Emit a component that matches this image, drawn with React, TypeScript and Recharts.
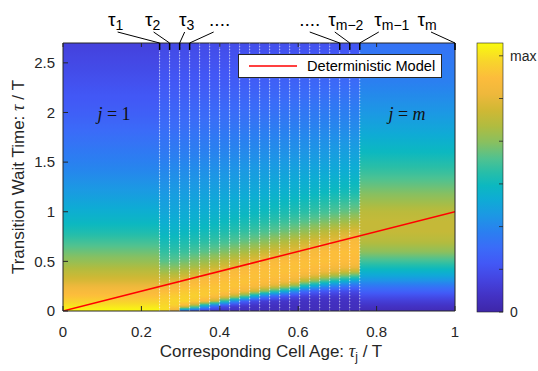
import React from 'react';
import { ComposedChart, XAxis, YAxis, ReferenceArea, ReferenceLine, Line, Legend } from 'recharts';

// ---------------- data ----------------
// sample points of the transition wait time (tau / T)
const TAU = [0, 0.05, 0.1, 0.15, 0.2, 0.25, 0.3, 0.35, 0.4, 0.45, 0.5, 0.6, 0.7, 0.8, 0.9, 1.0, 1.2, 1.4, 1.6, 1.8, 2.0, 2.3, 2.7];
// column boundaries on the cell-age axis (0, tau_1 ... tau_{m-1}, tau_m = 1)
const EDGES = [0, 0.2465, 0.272, 0.2976, 0.3231, 0.3486, 0.3742, 0.3997, 0.4252, 0.4507, 0.4763, 0.5018, 0.5273,
  0.5529, 0.5784, 0.6039, 0.6295, 0.655, 0.6805, 0.706, 0.7316, 0.7571, 1];
// relative density (0..max) per column, sampled at TAU
const COL_J1 = [1.0, 0.96, 0.92, 0.88, 0.85, 0.81, 0.77, 0.74, 0.71, 0.68, 0.65, 0.6, 0.55, 0.5, 0.46, 0.43, 0.37, 0.32, 0.28, 0.24, 0.2, 0.16, 0.11];
const MID_01 = [0.95, 0.94, 0.92, 0.9, 0.87, 0.82, 0.75, 0.71, 0.66, 0.62, 0.58, 0.53, 0.49, 0.455, 0.425, 0.4, 0.36, 0.32, 0.28, 0.25, 0.22, 0.18, 0.13];
const MID_02 = [0.8, 0.92, 0.93, 0.91, 0.88, 0.85, 0.78, 0.72, 0.67, 0.62, 0.585, 0.53, 0.49, 0.455, 0.43, 0.405, 0.37, 0.33, 0.29, 0.25, 0.22, 0.18, 0.135];
const MID_03 = [0.23, 0.85, 0.93, 0.92, 0.9, 0.87, 0.82, 0.75, 0.7, 0.65, 0.605, 0.54, 0.5, 0.465, 0.435, 0.413, 0.372, 0.332, 0.292, 0.255, 0.225, 0.182, 0.137];
const MID_04 = [0.14, 0.665, 0.9, 0.92, 0.905, 0.88, 0.85, 0.78, 0.73, 0.67, 0.63, 0.56, 0.51, 0.474, 0.443, 0.419, 0.377, 0.337, 0.297, 0.26, 0.228, 0.182, 0.139];
const MID_05 = [0.084, 0.41, 0.84, 0.905, 0.9, 0.885, 0.865, 0.83, 0.76, 0.7, 0.656, 0.579, 0.523, 0.483, 0.452, 0.426, 0.384, 0.342, 0.302, 0.264, 0.232, 0.185, 0.14];
const MID_06 = [0.06, 0.24, 0.73, 0.88, 0.895, 0.885, 0.87, 0.845, 0.785, 0.73, 0.684, 0.598, 0.537, 0.494, 0.461, 0.432, 0.39, 0.347, 0.307, 0.268, 0.235, 0.188, 0.142];
const MID_07 = [0.05, 0.14, 0.515, 0.83, 0.887, 0.89, 0.88, 0.865, 0.83, 0.76, 0.716, 0.62, 0.553, 0.504, 0.47, 0.44, 0.395, 0.352, 0.312, 0.272, 0.239, 0.19, 0.144];
const MID_08 = [0.047, 0.09, 0.34, 0.73, 0.866, 0.89, 0.885, 0.875, 0.855, 0.785, 0.74, 0.645, 0.572, 0.519, 0.48, 0.448, 0.4, 0.357, 0.317, 0.277, 0.241, 0.193, 0.145];
const MID_09 = [0.045, 0.07, 0.21, 0.585, 0.82, 0.876, 0.885, 0.88, 0.865, 0.83, 0.77, 0.673, 0.592, 0.533, 0.49, 0.457, 0.407, 0.366, 0.323, 0.283, 0.245, 0.196, 0.148];
const MID_10 = [0.043, 0.058, 0.137, 0.42, 0.744, 0.856, 0.876, 0.88, 0.875, 0.855, 0.79, 0.7, 0.611, 0.548, 0.5, 0.465, 0.413, 0.372, 0.328, 0.288, 0.247, 0.198, 0.15];
const MID_11 = [0.042, 0.05, 0.099, 0.29, 0.628, 0.82, 0.869, 0.88, 0.878, 0.87, 0.835, 0.734, 0.634, 0.565, 0.513, 0.475, 0.42, 0.376, 0.333, 0.293, 0.25, 0.202, 0.15];
const MID_12 = [0.041, 0.048, 0.082, 0.22, 0.527, 0.777, 0.857, 0.88, 0.88, 0.875, 0.855, 0.754, 0.662, 0.584, 0.529, 0.486, 0.431, 0.382, 0.338, 0.298, 0.256, 0.206, 0.152];
const MID_13 = [0.04, 0.047, 0.072, 0.17, 0.43, 0.712, 0.838, 0.871, 0.88, 0.878, 0.87, 0.776, 0.689, 0.604, 0.543, 0.497, 0.436, 0.388, 0.343, 0.303, 0.262, 0.21, 0.153];
const MID_14 = [0.04, 0.046, 0.064, 0.135, 0.34, 0.636, 0.807, 0.862, 0.878, 0.88, 0.875, 0.79, 0.718, 0.624, 0.559, 0.507, 0.442, 0.395, 0.348, 0.308, 0.267, 0.211, 0.155];
const MID_15 = [0.04, 0.045, 0.058, 0.105, 0.24, 0.47, 0.69, 0.82, 0.865, 0.88, 0.877, 0.82, 0.743, 0.649, 0.577, 0.52, 0.45, 0.4, 0.353, 0.313, 0.273, 0.218, 0.156];
const MID_16 = [0.04, 0.044, 0.056, 0.095, 0.2, 0.4, 0.62, 0.78, 0.85, 0.875, 0.88, 0.85, 0.765, 0.677, 0.597, 0.536, 0.458, 0.406, 0.358, 0.318, 0.278, 0.222, 0.158];
const MID_17 = [0.04, 0.044, 0.055, 0.088, 0.18, 0.34, 0.54, 0.72, 0.825, 0.865, 0.88, 0.865, 0.783, 0.706, 0.618, 0.552, 0.467, 0.411, 0.363, 0.323, 0.283, 0.225, 0.16];
const MID_18 = [0.04, 0.045, 0.055, 0.085, 0.165, 0.3, 0.48, 0.66, 0.79, 0.855, 0.875, 0.875, 0.795, 0.734, 0.639, 0.569, 0.476, 0.417, 0.372, 0.328, 0.288, 0.23, 0.161];
const MID_19 = [0.04, 0.045, 0.055, 0.083, 0.15, 0.27, 0.43, 0.6, 0.75, 0.84, 0.87, 0.878, 0.83, 0.757, 0.665, 0.59, 0.486, 0.425, 0.38, 0.334, 0.294, 0.234, 0.164];
const MID_20 = [0.04, 0.046, 0.055, 0.08, 0.14, 0.24, 0.38, 0.55, 0.72, 0.83, 0.865, 0.878, 0.855, 0.776, 0.693, 0.61, 0.497, 0.433, 0.386, 0.339, 0.299, 0.239, 0.166];
const COL_JM = [0.03, 0.06, 0.1, 0.15, 0.21, 0.27, 0.34, 0.4, 0.45, 0.5, 0.55, 0.64, 0.7, 0.73, 0.73, 0.71, 0.62, 0.54, 0.47, 0.41, 0.36, 0.3, 0.26];

const DETERMINISTIC = [{ age: 0, wait: 0 }, { age: 1, wait: 1 }];
const X_TICKS = [0, 0.2, 0.4, 0.6, 0.8, 1];
const Y_TICKS = [0, 0.5, 1, 1.5, 2, 2.5];
const TAU_MARKS = [EDGES[1], EDGES[2], EDGES[3], EDGES[4], EDGES[19], EDGES[20], EDGES[21], EDGES[22]];
const TAU_MARK_LABELS: [string, string][] = [['τ', '1'], ['τ', '2'], ['τ', '3'], ['....', ''], ['....', ''], ['τ', 'm−2'], ['τ', 'm−1'], ['τ', 'm']];
const CBAR_TICKS = [0, 1, 2, 3, 4, 5, 6];
const CBAR_TICK_LABELS = ['0', '', '', '', '', '', 'max'];
const CBAR_RANGE = 6.3;

// ---------------- styling ----------------
const COLUMNS = [COL_J1, MID_01, MID_02, MID_03, MID_04, MID_05, MID_06, MID_07, MID_08, MID_09, MID_10,
  MID_11, MID_12, MID_13, MID_14, MID_15, MID_16, MID_17, MID_18, MID_19, MID_20, COL_JM];
const Y_MAX = 2.7;
const AXIS = '#262626';
const FONT = '"Liberation Sans", Arial, Helvetica, sans-serif';
const TOP_TICKS = [...X_TICKS.filter((t) => t < 1), ...TAU_MARKS].sort((a, b) => a - b);

const PARULA: [number, string][] = [
  [0.0, '#3e26a8'], [0.06, '#4332c4'], [0.12, '#4444e0'], [0.18, '#4258f6'], [0.24, '#3a6cf8'],
  [0.3, '#2a80f0'], [0.36, '#1c98e4'], [0.42, '#0eacd4'], [0.47, '#0cb8c0'], [0.52, '#28bea8'],
  [0.57, '#50c290'], [0.63, '#88c060'], [0.69, '#b0bc40'], [0.75, '#d0b834'], [0.81, '#eeb83c'],
  [0.87, '#fcbc3c'], [0.93, '#f8d42c'], [1.0, '#f9fb0e'],
];

function hex(h: string) {
  return [parseInt(h.slice(1, 3), 16), parseInt(h.slice(3, 5), 16), parseInt(h.slice(5, 7), 16)];
}
function cmap(v: number) {
  const t = Math.max(0, Math.min(1, v));
  for (let i = 1; i < PARULA.length; i++) {
    if (t <= PARULA[i][0]) {
      const [p0, c0] = PARULA[i - 1];
      const [p1, c1] = PARULA[i];
      const f = (t - p0) / (p1 - p0);
      const a = hex(c0), b = hex(c1);
      return `rgb(${Math.round(a[0] + (b[0] - a[0]) * f)},${Math.round(a[1] + (b[1] - a[1]) * f)},${Math.round(a[2] + (b[2] - a[2]) * f)})`;
    }
  }
  return PARULA[PARULA.length - 1][1];
}
function sampleAt(col: number[], t: number) {
  for (let i = 1; i < TAU.length; i++) {
    if (t <= TAU[i]) {
      const f = (t - TAU[i - 1]) / (TAU[i] - TAU[i - 1]);
      return col[i - 1] + (col[i] - col[i - 1]) * f;
    }
  }
  return col[col.length - 1];
}
function gradientStops(col: number[]) {
  const stops = [];
  const n = 135;
  for (let i = 0; i <= n; i++) {
    const t = (Y_MAX * i) / n;
    stops.push(<stop key={i} offset={t / Y_MAX} stopColor={cmap(sampleAt(col, t))} />);
  }
  return stops;
}

const TAU_LINE_DX = [-42, -16, 5, 24, -30, -15, 19, -24];
const TAU_TEXT_DX = [-44, -17, 7, 30, -30, -4, 32, -28];

function TopTick(props: any) {
  const { x, y, payload } = props;
  const idx = TAU_MARKS.indexOf(payload.value);
  if (idx < 0) {
    return <line x1={x} x2={x} y1={y} y2={y + 4} stroke={AXIS} strokeWidth={1} />;
  }
  const [base, sub] = TAU_MARK_LABELS[idx];
  return (
    <g>
      <line x1={x} x2={x} y1={y} y2={y + 7} stroke="#000" strokeWidth={1.5} />
      <line x1={x} y1={y} x2={x + TAU_LINE_DX[idx]} y2={y - 11} stroke="#000" strokeWidth={1} />
      <text x={x + TAU_TEXT_DX[idx]} y={y - 17} textAnchor="middle" fontFamily={FONT} fontSize={19} fill="#000">
        {base}
        {sub ? <tspan fontSize={14} dy={4}>{sub}</tspan> : null}
      </text>
    </g>
  );
}

function XTitle(props: any) {
  const vb = props.viewBox;
  const cx = vb.x + vb.width / 2 + 12;
  return (
    <text x={cx} y={vb.y + 46} textAnchor="middle" fontFamily={FONT} fontSize={17} fill={AXIS}>
      Corresponding Cell Age: <tspan fontStyle="italic" fontFamily='"Liberation Serif", serif' fontSize={18}>τ</tspan>
      <tspan fontSize={12} dy={4}>j</tspan>
      <tspan dy={-4}> / T</tspan>
    </text>
  );
}

function YTitle(props: any) {
  const vb = props.viewBox;
  const cy = vb.y + vb.height / 2;
  const x = 24;
  return (
    <text x={x} y={cy} transform={`rotate(-90, ${x}, ${cy})`} textAnchor="middle" fontFamily={FONT} fontSize={17} fill={AXIS}>
      Transition Wait Time: <tspan fontStyle="italic" fontFamily='"Liberation Serif", serif' fontSize={18}>τ</tspan> / T
    </text>
  );
}

function LegendBox() {
  return (
    <div style={{ width: 204, height: 24, boxSizing: 'border-box', border: `1px solid ${AXIS}`, background: '#fff', position: 'relative', fontFamily: FONT }}>
      <svg width={60} height={22} style={{ position: 'absolute', left: 0, top: 0 }}>
        <line x1={10} x2={58} y1={11} y2={11} stroke="#ff0000" strokeWidth={1.5} />
      </svg>
      <span style={{ position: 'absolute', left: 68, top: 2, fontSize: 14.6, lineHeight: '18px', color: '#000', whiteSpace: 'nowrap' }}>Deterministic Model</span>
    </div>
  );
}

export default function App() {
  const cbX = 477, cbY = 43, cbW = 26, cbH = 269;
  return (
    <div style={{ position: 'absolute', left: 0, top: 0, width: 538, height: 371, background: '#fff', fontFamily: FONT }}>
      <svg width={0} height={0} style={{ position: 'absolute' }}>
        <defs>
          {COLUMNS.map((col, i) => (
            <linearGradient key={i} id={`col${i}`} x1="0" y1="1" x2="0" y2="0">
              {gradientStops(col)}
            </linearGradient>
          ))}
          <linearGradient id="cbar" x1="0" y1="1" x2="0" y2="0">
            {PARULA.map(([p, c], i) => <stop key={i} offset={p} stopColor={c} />)}
          </linearGradient>
        </defs>
      </svg>
      <ComposedChart width={538} height={371} margin={{ top: 42, right: 82, bottom: 0, left: 0 }} data={DETERMINISTIC}>
        <XAxis dataKey="age" type="number" domain={[0, 1]} ticks={X_TICKS} allowDataOverflow height={60}
          tickSize={-5} tickMargin={20} interval={0}
          axisLine={{ stroke: AXIS }} tickLine={{ stroke: AXIS }}
          tick={{ fill: AXIS, fontSize: 15, fontFamily: FONT }}
          label={<XTitle />} />
        <XAxis xAxisId="top" orientation="top" type="number" domain={[0, 1]} ticks={TOP_TICKS} allowDataOverflow height={1}
          tickSize={0} tickMargin={0} interval={0} axisLine={{ stroke: AXIS }} tickLine={false}
          tick={<TopTick />} />
        <YAxis type="number" domain={[0, Y_MAX]} ticks={Y_TICKS} allowDataOverflow width={63}
          tickSize={-5} tickMargin={13} interval={0}
          axisLine={{ stroke: AXIS }} tickLine={{ stroke: AXIS }}
          tick={{ fill: AXIS, fontSize: 15, fontFamily: FONT }}
          label={<YTitle />} />
        <YAxis yAxisId="right" orientation="right" type="number" domain={[0, Y_MAX]} ticks={Y_TICKS} allowDataOverflow width={1}
          tickSize={-5} tick={false} interval={0} axisLine={{ stroke: AXIS }} tickLine={{ stroke: AXIS }} />
        {COLUMNS.map((_, i) => (
          <ReferenceArea key={`a${i}`} x1={EDGES[i]} x2={EDGES[i + 1]} y1={0} y2={Y_MAX}
            fill={`url(#col${i})`} fillOpacity={1} stroke="none" ifOverflow="hidden" />
        ))}
        {EDGES.slice(1, EDGES.length - 1).map((e, i) => (
          <ReferenceLine key={`d${i}`} x={e} stroke="#ffffff" strokeOpacity={0.6} strokeDasharray="1 2" strokeWidth={1} />
        ))}
        <Line dataKey="wait" type="linear" stroke="#ff0000" strokeWidth={1.5} dot={false} isAnimationActive={false} legendType="line" name="Deterministic Model" />
        <Legend layout="horizontal" verticalAlign="middle" align="center" wrapperStyle={{ left: 238, top: 54, width: 204, height: 24 }} content={<LegendBox />} />
      </ComposedChart>
      <svg width={538} height={371} style={{ position: 'absolute', left: 0, top: 0, pointerEvents: 'none' }}>
        <text x={114} y={120} textAnchor="middle" fontFamily='"Liberation Serif", serif' fontSize={18} fill="#111">
          <tspan fontStyle="italic">j</tspan> = 1
        </text>
        <text x={407} y={120} textAnchor="middle" fontFamily='"Liberation Serif", serif' fontSize={18} fill="#111">
          <tspan fontStyle="italic">j</tspan> = <tspan fontStyle="italic">m</tspan>
        </text>
        <rect x={cbX} y={cbY} width={cbW} height={cbH} fill="url(#cbar)" stroke={AXIS} strokeWidth={0.6} />
        {CBAR_TICKS.map((t, i) => {
          const yy = cbY + cbH - (t / CBAR_RANGE) * cbH;
          return (
            <g key={i}>
              <line x1={cbX + cbW} x2={cbX + cbW - 4} y1={yy} y2={yy} stroke={AXIS} strokeWidth={0.8} />
              {CBAR_TICK_LABELS[i] ? (
                <text x={cbX + cbW + 7} y={yy + 5} fontFamily={FONT} fontSize={14} fill={AXIS}>{CBAR_TICK_LABELS[i]}</text>
              ) : null}
            </g>
          );
        })}
      </svg>
    </div>
  );
}
